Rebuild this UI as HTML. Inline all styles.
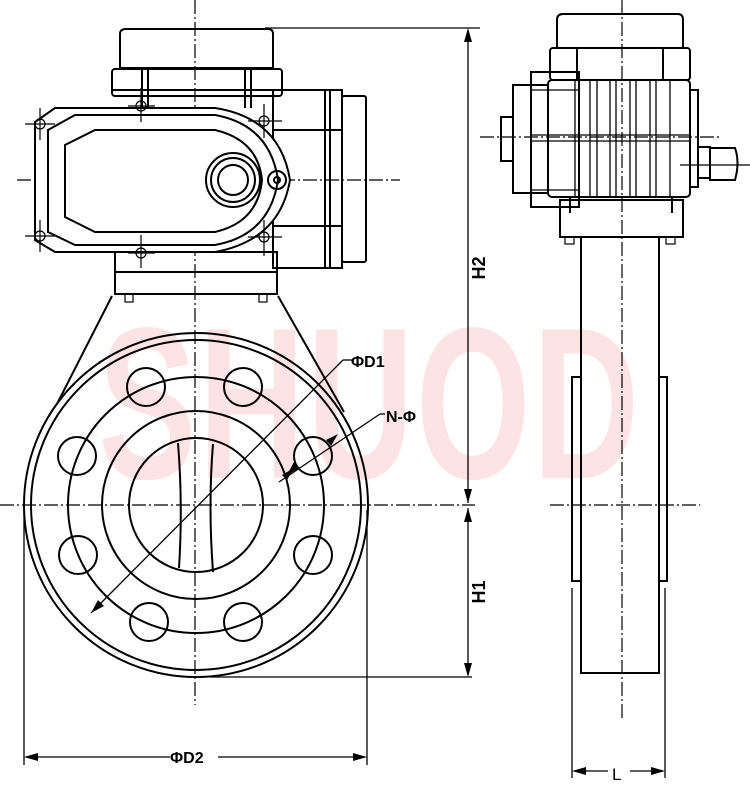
<!DOCTYPE html>
<html><head><meta charset="utf-8"><style>
html,body{margin:0;padding:0;background:#fff}
svg{display:block}
text{font-family:"Liberation Sans",sans-serif;font-weight:bold}
</style></head><body>
<svg width="750" height="794" viewBox="0 0 750 794" xmlns="http://www.w3.org/2000/svg">
<!-- watermark -->
<text x="0" y="0" transform="translate(98,478) scale(2.05,3.0)" font-size="72" fill="#fde3e3" letter-spacing="1" font-weight="bold">SHUOD</text>
<g fill="none" stroke="#000" stroke-width="2">
<!-- centerlines -->
<g stroke-width="1.2" stroke-dasharray="14,3,2,3">
<line x1="195" y1="0" x2="195" y2="705"/>
<line x1="0" y1="505" x2="475" y2="505"/>
<line x1="17" y1="180" x2="400" y2="180"/>
<line x1="622" y1="0" x2="622" y2="720"/>
<line x1="480" y1="137" x2="720" y2="137"/>
<line x1="550" y1="505" x2="700" y2="505"/>
</g>
<!-- left actuator -->
<path d="M120 34 Q120 29 126 29 L268 29 Q273 29 273 34 L273 68 L120 68 Z"/>
<rect x="112" y="69" width="170" height="27" rx="3"/>
<line x1="142" y1="69" x2="142" y2="108"/><line x1="148" y1="69" x2="148" y2="108"/>
<line x1="245" y1="69" x2="245" y2="108"/><line x1="251" y1="69" x2="251" y2="108"/>
<line x1="112" y1="90" x2="282" y2="90"/>
<rect x="273" y="90" width="69" height="178"/>
<rect x="342" y="96" width="24" height="166" rx="2"/>
<line x1="325" y1="90" x2="325" y2="268"/><line x1="330" y1="90" x2="330" y2="268"/>
<line x1="273" y1="130" x2="342" y2="130"/><line x1="273" y1="226" x2="342" y2="226"/>
<rect x="115" y="252" width="162" height="20"/>
<rect x="115" y="272" width="162" height="22"/>
<path d="M55 108 L215 108 Q280 118 290 180 Q280 240 215 252 L55 252 L35 240 L35 122 Z" fill="#fff"/>
<path d="M75 115 L215 115 Q270 125 278 180 Q270 235 215 245 L75 245 L48 232 L48 130 Z"/>
<path d="M95 130 L215 130 Q258 140 262 180 Q258 222 215 232 L95 232 L65 217 L65 145 Z"/>
<circle cx="233" cy="180" r="27"/><circle cx="233" cy="180" r="22"/><circle cx="233" cy="180" r="15"/>
<circle cx="277" cy="180" r="9"/><circle cx="277" cy="180" r="3"/>
<g stroke-width="1.2">
<circle cx="40" cy="124" r="5"/><line x1="25" y1="124" x2="55" y2="124"/><line x1="40" y1="108" x2="40" y2="140"/>
<circle cx="40" cy="236" r="5"/><line x1="25" y1="236" x2="55" y2="236"/><line x1="40" y1="220" x2="40" y2="252"/>
<circle cx="141" cy="106" r="5"/><line x1="141" y1="88" x2="141" y2="122"/><line x1="128" y1="106" x2="155" y2="106"/>
<circle cx="141" cy="253" r="5"/><line x1="141" y1="235" x2="141" y2="268"/><line x1="128" y1="253" x2="155" y2="253"/>
<circle cx="264" cy="121" r="5"/><line x1="264" y1="104" x2="264" y2="138"/><line x1="248" y1="121" x2="282" y2="121"/>
<circle cx="264" cy="237" r="5"/><line x1="264" y1="220" x2="264" y2="256"/><line x1="248" y1="237" x2="282" y2="237"/>
<rect x="125" y="294" width="8" height="8"/><rect x="259" y="294" width="8" height="8"/>
</g>
<!-- body -->
<line x1="112" y1="296" x2="58" y2="402"/><line x1="278" y1="296" x2="344" y2="412"/>
<circle cx="196" cy="505" r="172"/>
<circle cx="196" cy="505" r="165"/>
<circle cx="196" cy="505" r="128"/>
<circle cx="196" cy="505" r="94"/>
<circle cx="196" cy="505" r="67"/>
<path d="M178 443 Q183 505 179 568"/><path d="M213 444 Q208 505 213 572"/>
<g>
<circle cx="146" cy="387" r="19"/><circle cx="243" cy="387" r="19"/>
<circle cx="77" cy="456" r="19"/><circle cx="313" cy="456" r="19"/>
<circle cx="78" cy="555" r="19"/><circle cx="313" cy="555" r="19"/>
<circle cx="149" cy="622" r="19"/><circle cx="243" cy="622" r="19"/>
</g>
<g stroke-width="1.3">
<line x1="91" y1="613" x2="343" y2="360"/><line x1="343" y1="360" x2="352" y2="360"/>
<line x1="279" y1="482" x2="380" y2="414"/><line x1="380" y1="414" x2="385" y2="414"/>
<line x1="265" y1="28" x2="480" y2="28"/>
<line x1="468" y1="30" x2="468" y2="503"/>
<line x1="468" y1="508" x2="468" y2="675"/>
<line x1="210" y1="677" x2="472" y2="677"/>
<line x1="24" y1="510" x2="24" y2="765"/><line x1="367" y1="510" x2="367" y2="765"/>
<line x1="26" y1="757" x2="170" y2="757"/><line x1="218" y1="757" x2="365" y2="757"/>
</g>
</g>
<g fill="#000">
<polygon points="468,28 464,42 472,42"/><polygon points="468,503 464,489 472,489"/>
<polygon points="468,508 464,522 472,522"/><polygon points="468,677 464,663 472,663"/>
<polygon points="24,757 38,753 38,761"/><polygon points="367,757 353,753 353,761"/>
<polygon points="91,613 98,600 104,606"/><polygon points="294,468 282,475 287,480"/>
<polygon points="287,475 300,468 294,462"/><polygon points="338,434 326,440 331,446"/>
<polygon points="572,771 586,767 586,775"/><polygon points="665,771 651,767 651,775"/>
</g>
<text x="351" y="367" font-size="16">ΦD1</text>
<text x="386" y="422" font-size="16">N-Φ</text>
<text x="170" y="763" font-size="16">ΦD2</text>
<text transform="translate(485,268) rotate(-90)" font-size="18" text-anchor="middle">H2</text>
<text transform="translate(485,592) rotate(-90)" font-size="18" text-anchor="middle">H1</text>
<!-- right view -->
<g fill="none" stroke="#000" stroke-width="2">
<path d="M557 20 Q557 14 563 14 L678 14 Q683 14 683 20 L683 48 L557 48 Z"/>
<rect x="550" y="48" width="140" height="32" rx="3"/>
<line x1="577" y1="48" x2="577" y2="80"/><line x1="663" y1="48" x2="663" y2="80"/>
<rect x="531" y="72" width="48" height="135"/>
<rect x="513" y="85" width="35" height="108"/>
<rect x="501" y="117" width="12" height="44"/>
<rect x="548" y="80" width="142" height="117" rx="4"/>
<rect x="690" y="90" width="8" height="97"/>
<rect x="698" y="147" width="12" height="31"/>
<path d="M710 148 L735 148 Q740 162 735 180 L710 180 Z"/>
<g stroke-width="1.3">
<line x1="530" y1="135" x2="690" y2="135"/><line x1="530" y1="141" x2="690" y2="141"/>
<line x1="575" y1="80" x2="575" y2="197"/><line x1="590" y1="80" x2="590" y2="197"/>
<line x1="597" y1="80" x2="597" y2="197"/><line x1="610" y1="80" x2="610" y2="197"/>
<line x1="616" y1="80" x2="616" y2="197"/><line x1="630" y1="80" x2="630" y2="197"/>
<line x1="636" y1="80" x2="636" y2="197"/><line x1="650" y1="80" x2="650" y2="197"/>
<line x1="656" y1="80" x2="656" y2="197"/><line x1="670" y1="80" x2="670" y2="197"/>
<line x1="531" y1="90" x2="580" y2="90"/><line x1="531" y1="190" x2="580" y2="190"/>
<line x1="680" y1="165" x2="750" y2="165"/>
</g>
<rect x="560" y="200" width="123" height="37"/>
<line x1="570" y1="197" x2="570" y2="213"/><line x1="672" y1="197" x2="672" y2="213"/>
<rect x="565" y="237" width="9" height="7" stroke-width="1.2"/><rect x="666" y="237" width="9" height="7" stroke-width="1.2"/>
<path d="M581 237 L581 673 L659 673 L659 237"/>
<rect x="572" y="377" width="9" height="204"/>
<rect x="659" y="377" width="8" height="204"/>
<g stroke-width="1.3">
<line x1="572" y1="588" x2="572" y2="778"/><line x1="665" y1="588" x2="665" y2="778"/>
<line x1="574" y1="771" x2="608" y2="771"/><line x1="630" y1="771" x2="663" y2="771"/>
</g>
</g>
<text x="612" y="780" font-size="17" style="font-weight:normal">L</text>
</svg>
</body></html>
